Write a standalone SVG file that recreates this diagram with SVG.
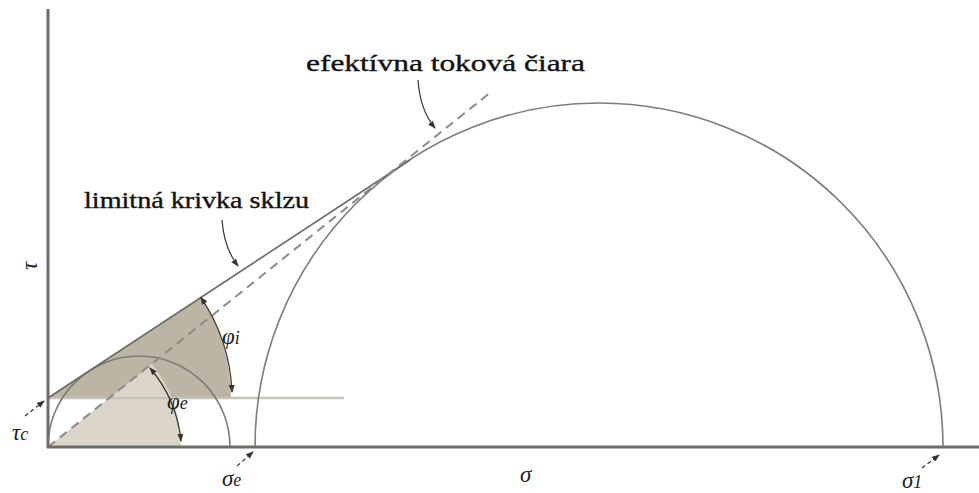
<svg xmlns="http://www.w3.org/2000/svg" width="979" height="493" viewBox="0 0 979 493">
<style>
.lbl{font-family:'Liberation Serif','Times New Roman',serif;font-size:23px;fill:#111;stroke:#111;stroke-width:0.35}
.sym{font-family:'Liberation Serif','Times New Roman',serif;font-style:italic;font-size:23px;fill:#222}
.sub{font-size:18px}
.curve{fill:none;stroke:#7c7c78;stroke-width:1.6}
.thin{fill:none;stroke:#333;stroke-width:1.2}
.dash{fill:none;stroke:#8a8a86;stroke-width:2;stroke-dasharray:9 6}
.axis{fill:none;stroke:#6c6c66;stroke-width:3}
</style>
<defs>
<marker id="ah" viewBox="0 0 8 6" refX="7" refY="3" markerWidth="8" markerHeight="6" orient="auto-start-reverse" markerUnits="userSpaceOnUse">
<path d="M0,0 L8,3 L0,6 z" fill="#333"/>
</marker>
</defs>
<rect width="979" height="493" fill="#ffffff"/>
<g id="sectors">
<path d="M48,398 L200.8,297.4 A183,183 0 0,1 231,398 Z" fill="#bcb4a5"/>
<path d="M48,447 L151.9,364 A133,133 0 0,1 181,447 Z" fill="#dbd6c9"/>
<line x1="48" y1="398" x2="344" y2="398" stroke="#c4c4bc" stroke-width="2.5"/>
</g>
<g id="circles">
<path id="mohr-small" class="curve" d="M48,447 A91,91 0 0,1 230,447"/>
<path id="mohr-large" class="curve" d="M255,447 A344,344 0 0,1 943,447"/>
</g>
<g id="connectors">
<line class="curve" x1="48" y1="398" x2="410" y2="160" style="stroke:#6a6a66"/>
<line class="dash" x1="48" y1="447" x2="491" y2="92"/>
<path class="thin" d="M200.8,297.4 A183,183 0 0,1 232,392" marker-start="url(#ah)" marker-end="url(#ah)"/>
<path class="thin" d="M150,368 A133,133 0 0,1 181,441" marker-start="url(#ah)" marker-end="url(#ah)"/>
<path class="thin" d="M418,80 Q420,110 435,128" marker-end="url(#ah)"/>
<path class="thin" d="M222,220 Q224,248 238,266" marker-end="url(#ah)"/>
<line class="thin" x1="25" y1="416" x2="44" y2="401" stroke-dasharray="4 3" marker-end="url(#ah)"/>
<line class="thin" x1="237" y1="466" x2="253" y2="452" stroke-dasharray="4 3" marker-end="url(#ah)"/>
<line class="thin" x1="922" y1="468" x2="939" y2="455" stroke-dasharray="4 3" marker-end="url(#ah)"/>
</g>
<g id="axes">
<line class="axis" x1="48" y1="9" x2="48" y2="448"/>
<line class="axis" x1="47" y1="447" x2="979" y2="447"/>
</g>
<g id="labels">
<text class="lbl" x="306" y="71" textLength="279" lengthAdjust="spacingAndGlyphs">efektívna toková čiara</text>
<text class="lbl" x="84" y="208" textLength="225" lengthAdjust="spacingAndGlyphs">limitná krivka sklzu</text>
<text class="sym" x="0" y="0" transform="translate(37,266) rotate(-90)" text-anchor="middle">τ</text>
<text class="sym" x="222" y="344">φ<tspan class="sub">i</tspan></text>
<text class="sym" x="167" y="409">φ<tspan class="sub">e</tspan></text>
<text class="sym" x="12" y="440">τ<tspan class="sub">c</tspan></text>
<text class="sym" x="222" y="486">σ<tspan class="sub">e</tspan></text>
<text class="sym" x="520" y="482">σ</text>
<text class="sym" x="902" y="488">σ<tspan class="sub">1</tspan></text>
</g>
</svg>
